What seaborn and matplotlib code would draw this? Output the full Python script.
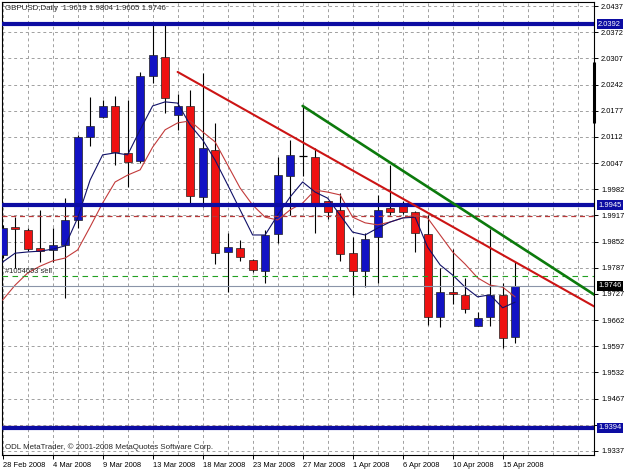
import matplotlib
matplotlib.use("Agg")
import matplotlib.pyplot as plt
import matplotlib.transforms as mtransforms
import seaborn as sns
import pandas as pd

# ---------------- data ----------------
dates = ["28 Feb 2008", "29 Feb 2008", "2 Mar 2008", "3 Mar 2008", "4 Mar 2008", "5 Mar 2008",
         "6 Mar 2008", "7 Mar 2008", "9 Mar 2008", "10 Mar 2008", "11 Mar 2008", "12 Mar 2008",
         "13 Mar 2008", "14 Mar 2008", "16 Mar 2008", "17 Mar 2008", "18 Mar 2008", "19 Mar 2008",
         "20 Mar 2008", "21 Mar 2008", "23 Mar 2008", "24 Mar 2008", "25 Mar 2008", "26 Mar 2008",
         "27 Mar 2008", "28 Mar 2008", "30 Mar 2008", "31 Mar 2008", "1 Apr 2008", "2 Apr 2008",
         "3 Apr 2008", "4 Apr 2008", "6 Apr 2008", "7 Apr 2008", "8 Apr 2008", "9 Apr 2008",
         "10 Apr 2008", "11 Apr 2008", "13 Apr 2008", "14 Apr 2008", "15 Apr 2008", "16 Apr 2008"]

opens = [1.9822, 1.9891, 1.9883, 1.9839, 1.9834, 1.9846, 1.9908, 2.0113, 2.0163, 2.0190,
         2.0074, 2.0054, 2.0264, 2.0311, 2.0168, 2.0190, 1.9965, 2.0081, 1.9829, 1.9839,
         1.9809, 1.9782, 1.9873, 2.0017, 2.0066, 2.0064, 1.9955, 1.9933, 1.9826, 1.9782,
         1.9866, 1.9938, 1.9950, 1.9928, 1.9873, 1.9668, 1.9730, 1.9723, 1.9646, 1.9668,
         1.9723, 1.9619]
highs = [1.9896, 1.9915, 1.9888, 1.9933, 1.9888, 1.9962, 2.0118, 2.0212, 2.0205, 2.0215,
         2.0205, 2.0274, 2.0395, 2.0393, 2.0220, 2.0229, 2.0271, 2.0148, 1.9876, 1.9859,
         1.9812, 1.9883, 2.0064, 2.0106, 2.0190, 2.0086, 1.9955, 1.9975, 1.9866, 1.9876,
         1.9970, 2.0044, 1.9955, 1.9930, 1.9920, 1.9789, 1.9836, 1.9765, 1.9681, 1.9886,
         1.9752, 1.9804]
lows = [1.9814, 1.9789, 1.9831, 1.9804, 1.9804, 1.9715, 1.9888, 2.0091, 2.0160, 2.0044,
        1.9990, 2.0049, 2.0247, 2.0173, 2.0131, 1.9950, 1.9940, 1.9799, 1.9730, 1.9807,
        1.9779, 1.9752, 1.9851, 1.9920, 2.0017, 1.9876, 1.9910, 1.9807, 1.9723, 1.9742,
        1.9752, 1.9920, 1.9923, 1.9829, 1.9648, 1.9644, 1.9700, 1.9678, 1.9646, 1.9646,
        1.9592, 1.9605]
closes = [1.9888, 1.9886, 1.9836, 1.9831, 1.9846, 1.9908, 2.0113, 2.0140, 2.0190, 2.0076,
          2.0051, 2.0264, 2.0316, 2.0210, 2.0190, 1.9967, 2.0086, 1.9826, 1.9841, 1.9817,
          1.9784, 1.9871, 2.0019, 2.0069, 2.0067, 1.9945, 1.9928, 1.9824, 1.9782, 1.9861,
          1.9933, 1.9928, 1.9928, 1.9876, 1.9668, 1.9730, 1.9725, 1.9688, 1.9666, 1.9723,
          1.9616, 1.9746]

ma_fast = [1.9804, 1.9826, 1.9829, 1.9831, 1.9836, 1.9844, 1.9913, 2.0007, 2.0069, 2.0074,
           2.0069, 2.0131, 2.0190, 2.0200, 2.0197, 2.0143, 2.0106, 2.0056, 1.9995, 1.9933,
           1.9871, 1.9871, 1.9920, 1.9965, 2.0002, 1.9977, 1.9962, 1.9920, 1.9878, 1.9871,
           1.9888, 1.9903, 1.9913, 1.9915, 1.9841, 1.9797, 1.9772, 1.9742, 1.9718, 1.9723,
           1.9691, 1.9705]
ma_slow = [1.9710, 1.9747, 1.9777, 1.9794, 1.9807, 1.9814, 1.9834, 1.9891, 1.9950, 2.0002,
           2.0019, 2.0032, 2.0088, 2.0131, 2.0148, 2.0153, 2.0126, 2.0101, 2.0044, 1.9987,
           1.9945, 1.9915, 1.9908, 1.9933, 1.9950, 1.9982, 1.9977, 1.9970, 1.9915, 1.9901,
           1.9896, 1.9903, 1.9913, 1.9920, 1.9913, 1.9871, 1.9829, 1.9799, 1.9765, 1.9747,
           1.9742, 1.9718]

date_tick_index = [0, 4, 8, 12, 16, 20, 24, 28, 32, 36, 40]
price_tick_labels = ["2.0437", "2.0372", "2.0307", "2.0242", "2.0177", "2.0112", "2.0047",
                     "1.9982", "1.9917", "1.9852", "1.9787", "1.9727", "1.9662", "1.9597",
                     "1.9532", "1.9467", "", "1.9337"]
price_top, price_bottom = 2.0437, 1.9337

level_blue = [2.0392, 1.9945, 1.9394]
level_blue_labels = ["2.0392", "1.9945", "1.9394"]
level_red_dashed = [1.9918, 1.9399]
order_level = 1.9770
order_label = "#1054653 sell"
bid_level = 1.9746
bid_label = "1.9746"

red_trend_x = [14, 47.4]
red_trend_y = [2.0274, 1.9693]
green_trend_x = [24, 47.4]
green_trend_y = [2.0190, 1.9722]

title_text = "GBPUSD,Daily  1.9619 1.9804 1.9605 1.9746"
footer_text = "ODL MetaTrader, \u00a9 2001-2008 MetaQuotes Software Corp."

# ---------------- style ----------------
sns.set_style("white")
plt.rcParams['font.family'] = ['Liberation Sans', 'DejaVu Sans']
FS = 5.4

BULL = '#1212c4'
BEAR = '#ee1111'
LINE_BLUE = '#0c0ca2'

fig = plt.figure(figsize=(6.25, 4.69), dpi=100)
fig.patch.set_facecolor('white')
ax = fig.add_axes([2 / 625, 14 / 469, 592 / 625, 453 / 469])
ax.set_facecolor('white')

n = len(dates)
idx = list(range(n))
df = pd.DataFrame({"i": idx, "open": opens, "high": highs, "low": lows, "close": closes,
                   "ma_fast": ma_fast, "ma_slow": ma_slow})

pad = 4 / 4045
ax.set_xlim(-0.05, 592 / 12.5 - 0.05)
ax.set_ylim(price_bottom - pad, price_top + pad)

# grid
step = (price_top - price_bottom) / (len(price_tick_labels) - 1)
price_ticks = [price_top - k * step for k in range(len(price_tick_labels))]
for yv in price_ticks:
    ax.axhline(yv, color='#a0a0a0', lw=0.7, ls=(0, (3, 3)), zorder=0)
for xv in range(0, 48, 2):
    ax.axvline(xv, color='#a0a0a0', lw=0.7, ls=(0, (3, 3)), zorder=0)

# candles
ax.vlines(df["i"], df["low"], df["high"], color='black', lw=0.8, zorder=2)
for _, r in df.iterrows():
    if abs(r["close"] - r["open"]) < 0.00015:
        ax.hlines((r["open"] + r["close"]) / 2, r["i"] - 0.32, r["i"] + 0.32,
                  color='black', lw=0.9, zorder=3)
        continue
    col = BULL if r["close"] > r["open"] else BEAR
    ax.bar(r["i"], abs(r["close"] - r["open"]), bottom=min(r["open"], r["close"]),
           width=0.64, color=col, edgecolor='#202020', linewidth=0.5, zorder=3)

# moving averages
sns.lineplot(data=df, x="i", y="ma_slow", ax=ax, color='#c23a3a', lw=0.8, zorder=4)
sns.lineplot(data=df, x="i", y="ma_fast", ax=ax, color='#101068', lw=0.8, zorder=4)

# horizontal levels
ax.axhline(bid_level, color='#8a94a8', lw=0.8, zorder=4)
ax.axhline(order_level, color='#22a022', lw=0.8, ls=(0, (5, 4)), zorder=4)
for lv in level_red_dashed:
    ax.axhline(lv, color='#b83838', lw=0.9, ls=(0, (4, 3)), zorder=4)
for lv in level_blue:
    ax.axhline(lv, color=LINE_BLUE, lw=3.0, zorder=5)

# trend lines
tr = pd.DataFrame({"x": red_trend_x, "y": red_trend_y})
tg = pd.DataFrame({"x": green_trend_x, "y": green_trend_y})
sns.lineplot(data=tr, x="x", y="y", ax=ax, color='#cc1414', lw=1.5, zorder=6)
sns.lineplot(data=tg, x="x", y="y", ax=ax, color='#0c7a0c', lw=1.9, zorder=6)

ax.set_xlabel("")
ax.set_ylabel("")

# axes ticks
ax.yaxis.tick_right()
ax.set_yticks(price_ticks)
ax.set_yticklabels(price_tick_labels)
ax.set_xticks(date_tick_index)
ax.set_xticklabels([dates[i] for i in date_tick_index], ha='left')
ax.tick_params(axis='y', right=True, left=False, length=3, width=0.7, pad=2,
               labelsize=FS, colors='black')
ax.tick_params(axis='x', bottom=True, length=3, width=0.7, pad=2, labelsize=FS,
               colors='black')
for s in ax.spines.values():
    s.set_color('black')
    s.set_linewidth(0.8)
    s.set_visible(True)

# right-side highlighted labels
trans = mtransforms.blended_transform_factory(ax.transAxes, ax.transData)
for lv, lab in zip(level_blue, level_blue_labels):
    ax.text(1.007, lv, lab, transform=trans, fontsize=FS, color='white', va='center',
            ha='left', clip_on=False, zorder=10,
            bbox=dict(boxstyle='square,pad=0.2', facecolor=LINE_BLUE, edgecolor='none'))
ax.text(1.007, bid_level, bid_label, transform=trans, fontsize=FS, color='white',
        va='center', ha='left', clip_on=False, zorder=10,
        bbox=dict(boxstyle='square,pad=0.2', facecolor='black', edgecolor='none'))

# right edge marker
ax.plot([1.0, 1.0], [2.0299, 2.0148], transform=trans, color='black', lw=2.2,
        clip_on=False, zorder=9, solid_capstyle='butt')

# texts
ax.text(0.005, 0.986, title_text, transform=ax.transAxes, fontsize=FS + 0.3, va='center',
        ha='left', zorder=10)
ax.text(0.005, 0.018, footer_text, transform=ax.transAxes, fontsize=FS + 0.3, va='center',
        ha='left', zorder=10)
ax.text(0.2, order_level + 0.0003, order_label, fontsize=FS, va='bottom', ha='left',
        zorder=10)

fig.savefig("out.png", dpi=100, facecolor='white')
